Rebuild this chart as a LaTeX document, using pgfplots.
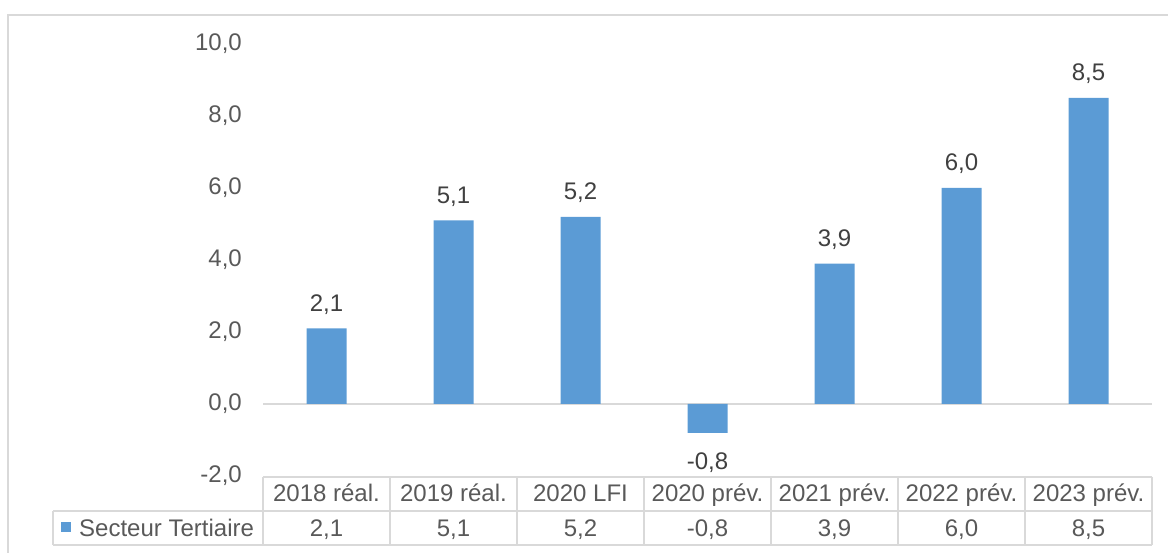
\documentclass[border=0pt]{standalone}
\usepackage{pgfplots}
\pgfplotsset{compat=1.18}
\usepackage{fontspec}
\setmainfont{Liberation Sans}
\definecolor{barblue}{HTML}{5B9BD5}
\definecolor{txt}{HTML}{595959}
\definecolor{valtxt}{HTML}{404040}
\definecolor{gridc}{HTML}{D9D9D9}
\newcommand{\fnt}{\fontsize{24}{28}\selectfont}
\begin{document}
\begin{tikzpicture}
\useasboundingbox (0pt,0pt) rectangle (1168pt,552pt);
% outer chart border
\draw[gridc, line width=1.3pt] (8pt,-20pt) rectangle (1200pt,537pt);
\begin{axis}[
  at={(263pt,76pt)}, anchor=south west,
  scale only axis, width=889pt, height=432pt,
  xmin=0.5, xmax=7.5, ymin=-2, ymax=10,
  enlargelimits=false,
  axis line style={draw=none},
  tick style={draw=none},
  ytick={-2,0,2,4,6,8,10},
  xtick={1,2,3,4,5,6,7},
  xticklabels={2018 réal.,2019 réal.,2020 LFI,2020 prév.,2021 prév.,2022 prév.,2023 prév.},
  xticklabel style={font=\fnt, text=txt, anchor=base, inner sep=0pt, yshift=-25pt},
  yticklabel style={font=\fnt, text=txt, anchor=east, inner sep=0pt, xshift=-21pt,
    /pgf/number format/fixed, /pgf/number format/fixed zerofill,
    /pgf/number format/precision=1, /pgf/number format/use comma,
    /pgf/number format/assume math mode=true},
  clip=false,
]
\draw[gridc, line width=1.3pt] (axis cs:0.5,0) -- (axis cs:7.5,0);
\addplot[ybar, bar width=40pt, fill=barblue, draw=none,
  nodes near coords,
  nodes near coords style={font=\fnt, text=valtxt, inner xsep=0pt, inner ysep=17pt, yshift=-3pt,
    /pgf/number format/fixed, /pgf/number format/fixed zerofill,
    /pgf/number format/precision=1, /pgf/number format/use comma,
    /pgf/number format/assume math mode=true}]
  coordinates {(1,2.1) (2,5.1) (3,5.2) (4,-0.8) (5,3.9) (6,6.0) (7,8.5)};
% data table values row
\node[font=\fnt, text=txt, anchor=base, inner sep=0pt, yshift=-60pt] at (axis cs:1,-2) {2,1};
\node[font=\fnt, text=txt, anchor=base, inner sep=0pt, yshift=-60pt] at (axis cs:2,-2) {5,1};
\node[font=\fnt, text=txt, anchor=base, inner sep=0pt, yshift=-60pt] at (axis cs:3,-2) {5,2};
\node[font=\fnt, text=txt, anchor=base, inner sep=0pt, yshift=-60pt] at (axis cs:4,-2) {-0,8};
\node[font=\fnt, text=txt, anchor=base, inner sep=0pt, yshift=-60pt] at (axis cs:5,-2) {3,9};
\node[font=\fnt, text=txt, anchor=base, inner sep=0pt, yshift=-60pt] at (axis cs:6,-2) {6,0};
\node[font=\fnt, text=txt, anchor=base, inner sep=0pt, yshift=-60pt] at (axis cs:7,-2) {8,5};
\end{axis}
% data table grid
\draw[gridc, line width=1.3pt] (263pt,75pt) -- (1152pt,75pt);
\draw[gridc, line width=1.3pt] (53pt,41pt) -- (1152pt,41pt);
\draw[gridc, line width=1.3pt] (53pt,7pt) -- (1152pt,7pt);
\draw[gridc, line width=1.3pt] (53pt,41pt) -- (53pt,7pt);
\foreach \k in {0,...,7} {
  \draw[gridc, line width=1.3pt] ({(263+127*\k)*1pt},75pt) -- ({(263+127*\k)*1pt},7pt);
}
% legend key
\fill[barblue] (61pt,20pt) rectangle (71pt,30pt);
\node[font=\fnt, text=txt, anchor=base west, inner sep=0pt] at (79pt,16pt) {Secteur Tertiaire};
\end{tikzpicture}
\end{document}
